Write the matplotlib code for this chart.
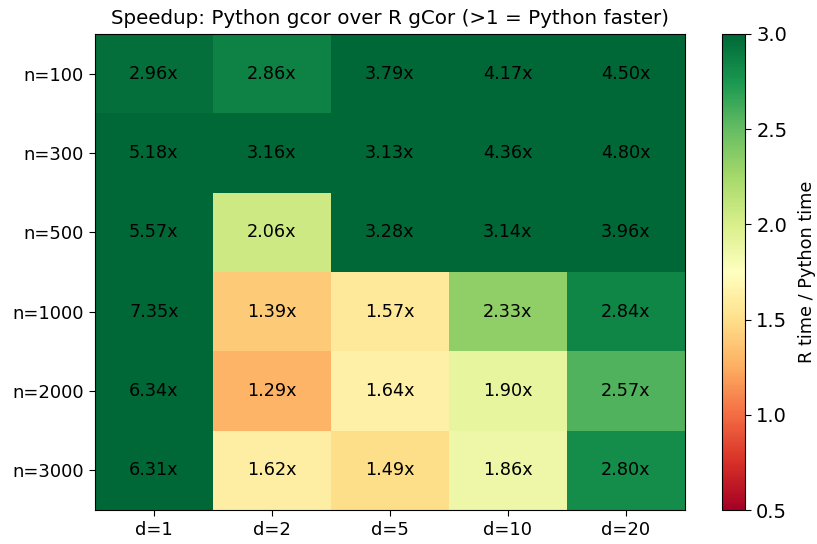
import matplotlib
matplotlib.use("Agg")
import matplotlib.pyplot as plt
import numpy as np

# speedup table: rows = sample size n, cols = dimension d
n_labels = ["n=100", "n=300", "n=500", "n=1000", "n=2000", "n=3000"]
d_labels = ["d=1", "d=2", "d=5", "d=10", "d=20"]
speedup = np.array([
    [2.96, 2.86, 3.79, 4.17, 4.50],
    [5.18, 3.16, 3.13, 4.36, 4.80],
    [5.57, 2.06, 3.28, 3.14, 3.96],
    [7.35, 1.39, 1.57, 2.33, 2.84],
    [6.34, 1.29, 1.64, 1.90, 2.57],
    [6.31, 1.62, 1.49, 1.86, 2.80],
])

fig = plt.figure(figsize=(8.17, 5.44), dpi=100)
ax = fig.add_axes([0.116, 0.0625, 0.722, 0.875])
cax = fig.add_axes([0.884, 0.0625, 0.028, 0.875])

im = ax.imshow(speedup, cmap="RdYlGn", vmin=0.5, vmax=3.0, aspect="auto")

ax.set_xticks(range(len(d_labels)))
ax.set_xticklabels(d_labels)
ax.set_yticks(range(len(n_labels)))
ax.set_yticklabels(n_labels)
ax.tick_params(labelsize=13, length=4.5)

for i in range(len(n_labels)):
    for j in range(len(d_labels)):
        ax.text(j, i, f"{speedup[i, j]:.2f}x", ha="center", va="center",
                color="black", fontsize=12.7)

ax.set_title("Speedup: Python gcor over R gCor (>1 = Python faster)",
             fontsize=14.3, pad=7)

cb = fig.colorbar(im, cax=cax)
cb.set_label("R time / Python time", fontsize=12.8, labelpad=8)
cb.ax.tick_params(labelsize=14, length=4.5)

fig.savefig("out.png", dpi=100)
